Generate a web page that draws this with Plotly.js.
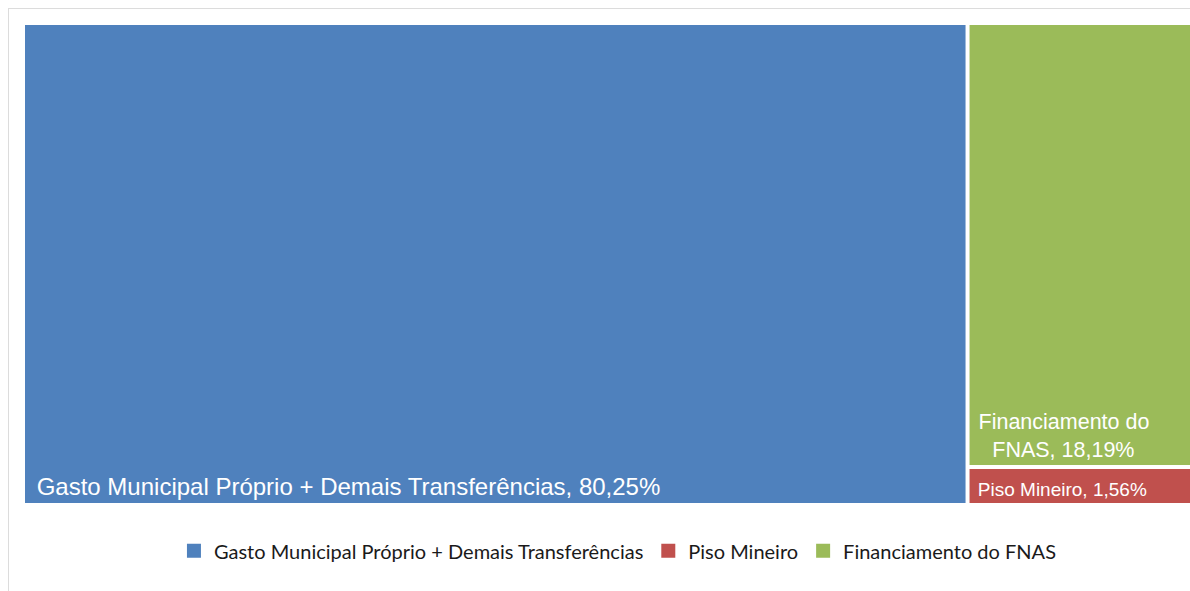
<!DOCTYPE html>
<html>
<head>
<meta charset="utf-8">
<script src="https://cdn.plot.ly/plotly-3.0.1.min.js"></script>
<style>
html,body{margin:0;padding:0;overflow:hidden;background:#fff;width:1190px;height:591px;}
#frame{position:absolute;left:8px;top:8px;width:1200px;height:600px;border:1px solid #dcdcdc;box-sizing:border-box;}
#chart{position:absolute;left:0;top:0;}
</style>
</head>
<body>
<div id="frame"></div>
<div id="chart"></div>
<script>
const categories = ["Gasto Municipal Próprio + Demais Transferências", "Piso Mineiro", "Financiamento do FNAS"];
const shares = [80.25, 1.56, 18.19];
const shareLabels = ["80,25%", "1,56%", "18,19%"];
const tileText = [
  "\u00a0\u200aGasto Municipal Próprio + Demais Transferências, 80,25%",
  "\u00a0Piso Mineiro, 1,56%",
  "\u00a0Financiamento do<br>\u00a0\u00a0\u00a0\u200aFNAS, 18,19%"
];
const colors = ["#4F81BD", "#C0504D", "#9BBB59"];

const treemap = {
  type: "treemap",
  labels: categories,
  parents: categories.map(() => ""),
  values: shares,
  text: tileText,
  texttemplate: "%{text}",
  textposition: "bottom left",
  textfont: {family: "Liberation Sans, Arial, sans-serif", size: [24, 19, 21.5], color: "#ffffff"},
  marker: {colors: colors, line: {width: 0}, pad: {t: 0, l: 0, r: 0, b: 0}},
  tiling: {pad: 4},
  pathbar: {visible: false},
  sort: true,
  hoverinfo: "label+text",
  showlegend: false
};

const legendTraces = categories.map((c, i) => ({
  type: "scatter",
  mode: "markers",
  x: [null], y: [null],
  name: c,
  marker: {symbol: "square", size: 14, color: colors[i]},
  showlegend: true,
  hoverinfo: "skip"
}));

const layout = {
  width: 1210,
  height: 600,
  margin: {l: 25, r: 12, t: 25, b: 97},
  paper_bgcolor: "rgba(0,0,0,0)",
  plot_bgcolor: "rgba(0,0,0,0)",
  xaxis: {visible: false},
  yaxis: {visible: false},
  showlegend: true,
  legend: {
    orientation: "h",
    x: 0.5055, xanchor: "center",
    y: -0.1, yanchor: "middle",
    font: {family: "Lato, sans-serif", size: 20, color: "#1a1a1a"},
    bgcolor: "rgba(0,0,0,0)"
  }
};

Plotly.newPlot("chart", [treemap].concat(legendTraces), layout, {displayModeBar: false, staticPlot: true});
</script>
</body>
</html>
